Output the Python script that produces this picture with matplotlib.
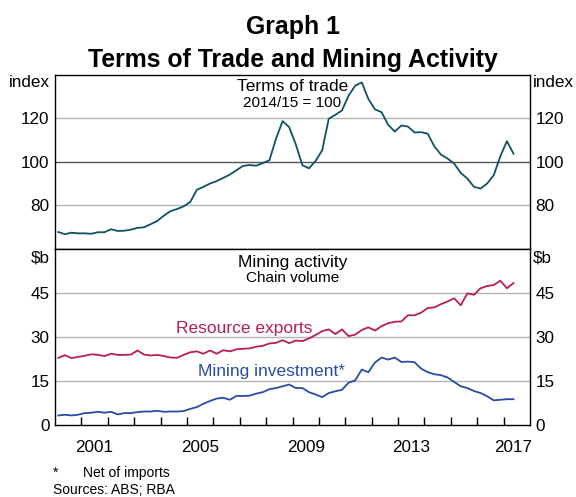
import matplotlib
matplotlib.use("Agg")
import matplotlib.pyplot as plt
import numpy as np

plt.rcParams["font.family"] = ["Liberation Sans", "DejaVu Sans"]

# quarterly data, 2000 Q1 to 2017 Q2
start_year = 2000
terms_of_trade = [
    67.8, 66.8, 67.5, 67.2, 67.2, 67.0, 67.7, 67.7, 69.1, 68.3, 68.4, 68.9,
    69.7, 70.0, 71.4, 72.9, 75.3, 77.4, 78.4, 79.6, 81.6, 87.2, 88.6, 90.1,
    91.2, 92.7, 94.2, 96.2, 98.2, 98.6, 98.3, 99.5, 100.8, 110.7, 118.8, 116.0,
    108.1, 98.5, 97.1, 100.5, 105.4, 119.9, 121.7, 123.7, 130.5, 135.1, 136.6, 129.0,
    124.2, 122.9, 117.1, 114.0, 116.8, 116.3, 113.6, 113.7, 113.0, 107.2, 103.4, 101.6,
    99.3, 95.0, 92.4, 88.6, 87.8, 90.1, 93.9, 102.6, 109.6, 103.8,
]
resource_exports = [
    22.9, 23.8, 22.8, 23.2, 23.6, 24.1, 23.9, 23.5, 24.3, 23.9, 23.9, 24.0,
    25.4, 24.0, 23.7, 23.9, 23.5, 23.0, 22.9, 23.9, 24.8, 25.1, 24.3, 25.4,
    24.3, 25.5, 25.1, 25.8, 26.0, 26.1, 26.7, 27.0, 27.8, 28.0, 28.9, 27.9,
    28.8, 28.6, 29.5, 30.7, 32.0, 32.6, 31.0, 32.6, 30.3, 30.8, 32.4, 33.3,
    32.2, 33.7, 34.7, 35.2, 35.3, 37.4, 37.4, 38.3, 39.9, 40.1, 41.2, 42.1,
    43.2, 40.8, 44.9, 44.4, 46.6, 47.4, 47.7, 49.2, 46.6, 48.4,
]
mining_investment = [
    3.25, 3.5, 3.25, 3.5, 4.05, 4.2, 4.5, 4.2, 4.5, 3.6, 4.05, 4.05,
    4.4, 4.6, 4.6, 4.85, 4.5, 4.6, 4.6, 4.75, 5.5, 6.1, 7.25, 8.2,
    9.0, 9.3, 8.6, 9.9, 9.9, 10.0, 10.7, 11.2, 12.2, 12.6, 13.2, 13.8,
    12.6, 12.6, 11.2, 10.4, 9.5, 10.9, 11.5, 12.0, 14.4, 15.2, 18.9, 18.0,
    21.3, 23.0, 22.3, 23.0, 21.5, 21.6, 21.4, 19.2, 18.0, 17.3, 17.0, 16.2,
    14.7, 13.2, 12.6, 11.6, 10.9, 9.8, 8.4, 8.6, 8.8, 8.8,
]
year_labels = ["2001", "2005", "2009", "2013", "2017"]
top_ticks = [80, 100, 120]
bottom_ticks = [0, 15, 30, 45]

# mid-quarter dates
dates = start_year + 0.125 + 0.25 * np.arange(len(terms_of_trade))

teal = "#0f5262"
crimson = "#b8204f"
blue = "#2a4ca6"
grid_col = "#b4b4b4"

fig = plt.figure(figsize=(5.76, 4.97), dpi=100)
left, width = 55 / 576, 475 / 576
ax1 = fig.add_axes([left, 1 - 249 / 497, width, 174 / 497])
ax2 = fig.add_axes([left, 1 - 425 / 497, width, 176 / 497])

for ax in (ax1, ax2):
    ax.set_xlim(2000, 2018)
    for s in ax.spines.values():
        s.set_linewidth(1.0)
    ax.tick_params(axis="y", which="both", length=0, labelleft=True,
                   labelright=True, labelsize=12.3, pad=4)

# top panel
ax1.set_ylim(60, 140)
ax1.set_yticks(top_ticks)
for t in top_ticks:
    ax1.axhline(t, color="#555555" if t == 100 else grid_col, lw=1.0, zorder=1)
ax1.plot(dates, terms_of_trade, color=teal, lw=1.3, zorder=3)
ax1.set_xticks([])
ax1.text(0.5, 0.91, "Terms of trade", transform=ax1.transAxes, ha="center",
         va="baseline", fontsize=12.5)
ax1.text(0.5, 0.816, "2014/15 = 100", transform=ax1.transAxes, ha="center",
         va="baseline", fontsize=11)
ax1.text(-0.011, 0.955, "index", transform=ax1.transAxes, ha="right",
         va="center", fontsize=12.3)
ax1.text(1.006, 0.955, "index", transform=ax1.transAxes, ha="left",
         va="center", fontsize=12.3)

# bottom panel
ax2.set_ylim(0, 60)
ax2.set_yticks(bottom_ticks)
for t in bottom_ticks[1:]:
    ax2.axhline(t, color=grid_col, lw=1.0, zorder=1)
ax2.plot(dates, resource_exports, color=crimson, lw=1.3, zorder=3)
ax2.plot(dates, mining_investment, color=blue, lw=1.3, zorder=3)
ax2.set_xticks([2001.5, 2005.5, 2009.5, 2013.5, 2017.37])
ax2.set_xticklabels(year_labels)
ax2.set_xticks(np.arange(2001, 2018), minor=True)
ax2.tick_params(axis="x", which="major", length=0, pad=11, labelsize=12.3)
ax2.tick_params(axis="x", which="minor", direction="in", length=6, width=1.0)
ax2.text(0.5, 0.899, "Mining activity", transform=ax2.transAxes, ha="center",
         va="baseline", fontsize=12.5)
ax2.text(0.5, 0.814, "Chain volume", transform=ax2.transAxes, ha="center",
         va="baseline", fontsize=11)
ax2.text(-0.011, 0.95, "\\$b", transform=ax2.transAxes, ha="right",
         va="center", fontsize=12.3)
ax2.text(1.006, 0.95, "\\$b", transform=ax2.transAxes, ha="left",
         va="center", fontsize=12.3)
ax2.text(2004.6, 31.3, "Resource exports", color=crimson, fontsize=12.5,
         va="baseline", ha="left")
ax2.text(2005.42, 16.6, "Mining investment*", color=blue, fontsize=12.5,
         va="baseline", ha="left")

# titles
fig.text(292.5 / 576, 1 - 34 / 497, "Graph 1", ha="center", va="baseline",
         fontsize=17.9, fontweight="bold")
fig.text(292.5 / 576, 1 - 67 / 497, "Terms of Trade and Mining Activity",
         ha="center", va="baseline", fontsize=17.9, fontweight="bold")

# footnotes
fig.text(53 / 576, 1 - 477 / 497, "*", fontsize=10, va="baseline")
fig.text(83 / 576, 1 - 477 / 497, "Net of imports", fontsize=10, va="baseline")
fig.text(53 / 576, 1 - 494 / 497, "Sources: ABS; RBA", fontsize=10,
         va="baseline")

fig.savefig("out.png", dpi=100)
